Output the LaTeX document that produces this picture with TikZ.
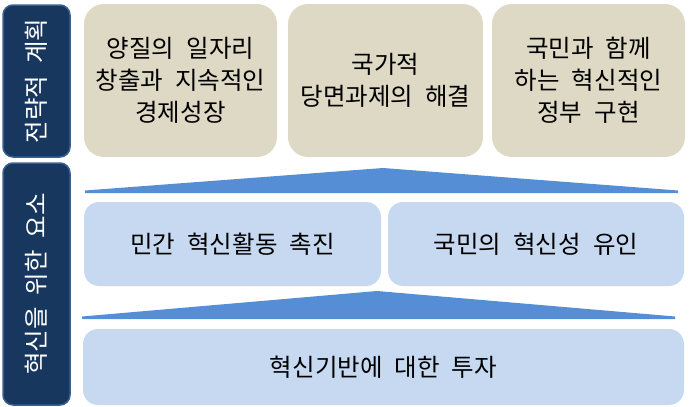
\documentclass[tikz,border=0pt]{standalone}
\usepackage{fontspec}
\setmainfont{Noto Sans CJK KR}[WordSpace=2.2]
\definecolor{tanbox}{HTML}{DDD9C4}
\definecolor{lightbox}{HTML}{C6D9F1}
\definecolor{roof}{HTML}{558ED5}
\definecolor{navy}{HTML}{17375E}
\definecolor{navyedge}{HTML}{3A6090}
\begin{document}
\begin{tikzpicture}[x=1pt,y=-1pt,
  goalbox/.style={fill=tanbox,rounded corners=20pt,inner sep=0pt,align=center,font=\fontsize{24.5}{32}\selectfont},
  partbox/.style={fill=lightbox,rounded corners=15pt,inner sep=0pt,align=center,font=\fontsize{24.5}{32}\selectfont},
  sidebox/.style={fill=navy,draw=navyedge,line width=1.5pt,rounded corners=10pt,inner sep=0pt},
  sidetext/.style={text=white,rotate=90,font=\fontsize{24.5}{28}\selectfont},
  roofshape/.style={fill=roof}]
\useasboundingbox (0,0) rectangle (689,407);
% side labels
\node[sidebox,minimum width=67pt,minimum height=152pt] (L1) at (36.5,81) {};
\node[sidetext] (L1t) at (L1.center) {전략적 계획};
\node[sidebox,minimum width=67pt,minimum height=242pt] (L2) at (36.5,284) {};
\node[sidetext] (L2t) at (L2.center) {혁신을 위한 요소};
% top goals
\node[goalbox,minimum width=193pt,minimum height=153pt] (t1) at (180.5,80.5) {양질의 일자리\\창출과 지속적인\\경제성장};
\node[goalbox,minimum width=195pt,minimum height=153pt] (t2) at (385.5,80.5) {국가적\\당면과제의 해결};
\node[goalbox,minimum width=193pt,minimum height=153pt] (t3) at (588.5,80.5) {국민과 함께\\하는 혁신적인\\정부 구현};
% upper roof
\fill[roofshape] (85,193) -- (85,190.5) -- (383,168) -- (678,190.5) -- (678,193) -- cycle;
% middle elements
\node[partbox,minimum width=297pt,minimum height=84pt] (m1) at (232.5,244) {민간 혁신활동 촉진};
\node[partbox,minimum width=296pt,minimum height=84pt] (m2) at (536,244) {국민의 혁신성 유인};
% lower roof
\fill[roofshape] (82,319) -- (82,316.5) -- (377,291) -- (675,316.5) -- (675,319) -- cycle;
% base
\node[partbox,minimum width=601pt,minimum height=76pt] (b) at (383.5,367) {혁신기반에 대한 투자};
\end{tikzpicture}
\end{document}
